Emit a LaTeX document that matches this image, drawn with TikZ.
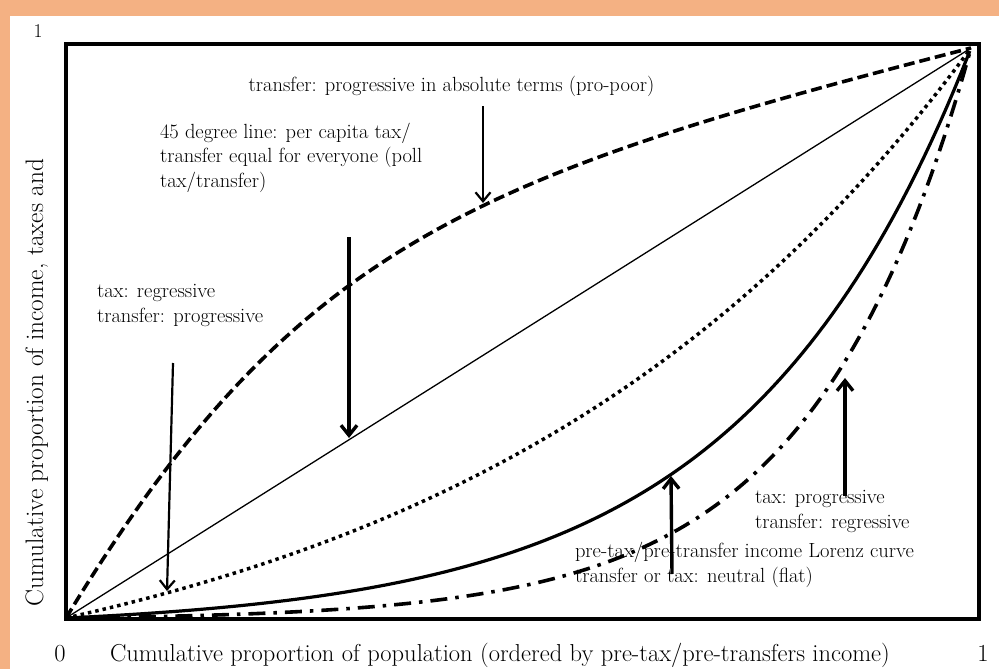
\documentclass[tikz,border=0pt]{standalone}
\usetikzlibrary{arrows.meta}
\definecolor{bandorange}{HTML}{F4B183}
\begin{document}
\begin{tikzpicture}[x=1pt,y=-1pt,
  ann/.style={font=\fontsize{20.5}{24.5}\selectfont, inner sep=0pt, outer sep=0pt, align=left, anchor=base west},
  axlab/.style={font=\fontsize{24.5}{26}\selectfont, inner sep=0pt, outer sep=0pt},
  thinptr/.style={-{Straight Barb[length=9pt,width=15pt]}, line width=2.2pt},
  thickptr/.style={-{Straight Barb[length=10pt,width=16pt]}, line width=3.4pt},
  frameline/.style={line width=4pt},
  diag/.style={line width=1.3pt},
  lorenz/.style={line width=3.2pt},
  dashcurve/.style={line width=3.6pt, dash pattern=on 11pt off 5pt},
  dotcurve/.style={line width=3.5pt, dash pattern=on 3.5pt off 4pt},
  dashdotcurve/.style={line width=3.6pt, dash pattern=on 17pt off 8pt on 3.5pt off 8pt}]
\useasboundingbox (0,0) rectangle (999,669);
\fill[white] (0,0) rectangle (999,669);
\fill[bandorange] (0,0) rectangle (999,16);
\fill[bandorange] (0,0) rectangle (10,669);

% frame
\node[draw, frameline, anchor=north west, inner sep=0pt, outer sep=0pt,
      minimum width=913pt, minimum height=574pt] (frame) at (66,44.5) {};

\coordinate (O) at (66,618);
\coordinate (E) at (971,48);
\coordinate (C1) at (292.25,244.65);
\coordinate (C2) at (473.25,176.25);

% 45 degree line
\draw[diag] (O) -- (E);
% dashed concave curve
\draw[dashcurve] (O) .. controls (C1) and (C2) .. (E);
% dotted curve
\draw[dotcurve] plot[domain=0:1, samples=120, variable=\u] ({66+905*\u}, {618-112.88*(exp(1.8*\u)-1)});
% solid Lorenz curve
\draw[lorenz] plot[domain=0:1, samples=120, variable=\u] ({66+905*\u}, {618-10.6347*(exp(4*\u)-1)});
% dash-dot curve
\draw[dashdotcurve] plot[domain=0:1, samples=140, variable=\u] ({66+905*\u}, {618-1.91359*(exp(5.7*\u)-1)});

% labels
\node[ann, anchor=base] (topt) at (451.5,92) {transfer: progressive in absolute terms (pro-poor)};
\node[ann] (flat) at (160,187) {45 degree line: per capita tax/\\transfer equal for everyone (poll\\tax/transfer)};
\node[ann] (regr) at (97,322) {tax: regressive\\transfer: progressive};
\node[ann] (lor) at (575,582) {pre-tax/pre-transfer income Lorenz curve\\transfer or tax: neutral (flat)};
\node[ann] (prog) at (755,528) {tax: progressive\\transfer: regressive};

% arrows
\coordinate (a1s) at (483,106); \coordinate (a1e) at (483,203);
\coordinate (a2s) at (349,237); \coordinate (a2e) at (349,438);
\coordinate (a3s) at (173,363); \coordinate (a3e) at (167,591);
\coordinate (a4s) at (672,574); \coordinate (a4e) at (671,476);
\coordinate (a5s) at (845,496); \coordinate (a5e) at (845,378);
\draw[thinptr] (a1s) -- (a1e);
\draw[thickptr] (a2s) -- (a2e);
\draw[thinptr] (a3s) -- (a3e);
\draw[thickptr] (a4s) -- (a4e);
\draw[thickptr] (a5s) -- (a5e);

% axis labels
\node[axlab, anchor=base] (yone) at (38,38) {\fontsize{19.5}{20}\selectfont 1};
\node[axlab, anchor=base] (xzero) at (60,661) {0};
\node[axlab, anchor=base] (xone) at (983,661) {1};
\node[axlab, anchor=base west] (xlab) at (110,661) {Cumulative proportion of population (ordered by pre-tax/pre-transfers income)};
\node[axlab, anchor=base, rotate=90, font=\fontsize{25.3}{26}\selectfont] (ylab) at (43,382.5) {Cumulative proportion of income, taxes and};
\end{tikzpicture}
\end{document}
